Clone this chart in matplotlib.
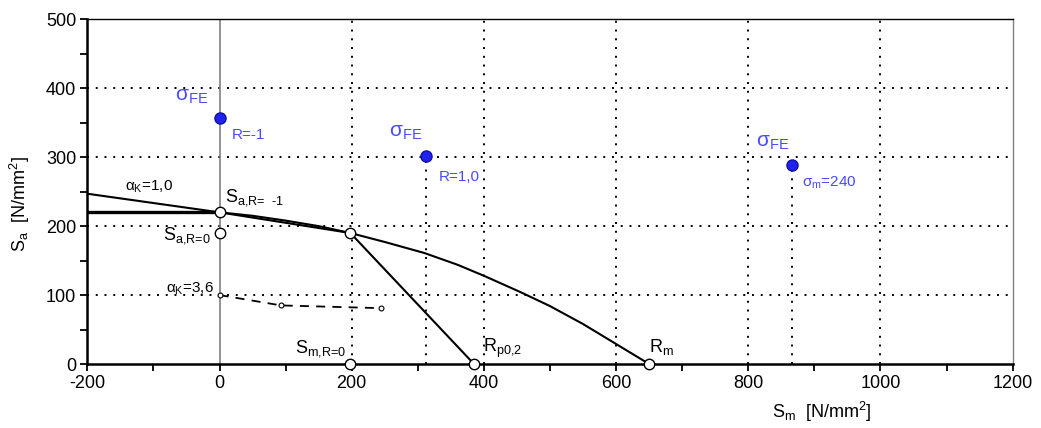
"""
Haigh diagram: S_a over S_m with fatigue limit curves and sigma_FE points
"""
import matplotlib
matplotlib.use("Agg")
import matplotlib.pyplot as plt
from matplotlib.ticker import MultipleLocator

plt.rcParams['font.family'] = ['Liberation Sans', 'DejaVu Sans']
plt.rcParams['mathtext.fontset'] = 'custom'
plt.rcParams['mathtext.rm'] = 'Liberation Sans'
plt.rcParams['mathtext.it'] = 'Liberation Sans'
plt.rcParams['axes.unicode_minus'] = False

# Curves (S_m, S_a in N/mm^2)
plateau_sm = [-200, 0]
plateau_sa = [220, 220]

alpha1_sm = [-200, 0, 198]
alpha1_sa = [247, 220, 190]

curve_sm = [0, 50, 100, 150, 198, 250, 310, 360, 400, 456, 500, 550, 600, 650]
curve_sa = [220, 215, 208, 200, 190, 177, 161, 144, 128, 104, 84, 58, 29, 0]

yield_sm = [198, 385]
yield_sa = [190, 0]

alpha36_sm = [0, 93, 244]
alpha36_sa = [100, 85, 81]

# open circles
open_sm = [0, 0, 198, 198, 385, 650]
open_sa = [220, 190, 190, 0, 0, 0]

# sigma_FE points
fe_sm = [0, 312, 866]
fe_sa = [357, 301, 288]

BLUE = '#2222ee'
TXT_BLUE = '#4a4aff'


def sub(main, low):
    # main text with subscript, no math spacing
    return r'$\text{%s}_{\text{%s}}$' % (main, low)


fig = plt.figure(figsize=(10.41, 4.28), dpi=100)
ax = fig.add_axes([0.0839, 0.1495, 0.8889, 0.8054])

ax.set_xlim(-200, 1200)
ax.set_ylim(0, 500)

# dotted grid
dot = (0, (1, 3.5))
for gx in [200, 400, 600, 800, 1000]:
    ax.axvline(gx, color='black', lw=1.4, ls=dot, zorder=1)
for gy in [100, 200, 300, 400]:
    ax.axhline(gy, color='black', lw=1.4, ls=dot, zorder=1)

# drop lines of the sigma_FE points
for xs, ys in zip(fe_sm[1:], fe_sa[1:]):
    ax.plot([xs, xs], [0, ys], color='black', lw=1.4, ls=dot, zorder=1)

# S_m = 0 line
ax.axvline(0, color='#808080', lw=1.2, zorder=2)

ax.plot(plateau_sm, plateau_sa, color='black', lw=2.4, zorder=3)
ax.plot(alpha1_sm, alpha1_sa, color='black', lw=1.5, zorder=3)
ax.plot(curve_sm, curve_sa, color='black', lw=1.5, zorder=3)
ax.plot(yield_sm, yield_sa, color='black', lw=1.5, zorder=3)
ax.plot(alpha36_sm, alpha36_sa, color='black', lw=1.3, ls=(0, (5, 4)), zorder=3)
ax.plot(alpha36_sm, alpha36_sa, ls='none', marker='o', ms=3.5, mfc='white',
        mec='black', mew=0.8, zorder=4)

ax.plot(open_sm, open_sa, ls='none', marker='o', ms=7.5, mfc='white',
        mec='black', mew=1.0, zorder=5, clip_on=False)
ax.plot(fe_sm, fe_sa, ls='none', marker='o', ms=8, mfc=BLUE,
        mec='#1010a0', mew=1.0, zorder=5)

# labels on the curves
ax.text(-143, 252, r'$\text{α}_{\text{K}}\text{=1,0}$', fontsize=11,
        ha='left', va='baseline')
ax.text(9, 236, sub('S', 'a,R=  -1'), fontsize=13, ha='left', va='baseline')
ax.text(-14, 181, sub('S', 'a,R=0'), fontsize=13, ha='right', va='baseline')
ax.text(-9, 103, r'$\text{α}_{\text{K}}\text{=3,6}$', fontsize=11,
        ha='right', va='baseline')
ax.text(192, 17, sub('S', 'm,R=0'), fontsize=13, ha='right', va='baseline')
ax.text(398, 17, sub('R', 'p0,2'), fontsize=13, ha='left', va='baseline')
ax.text(650, 17, sub('R', 'm'), fontsize=13, ha='left', va='baseline')

# sigma_FE labels
fe_label_pos = [(-67, 382), (257, 330), (812, 315)]
for lx, ly in fe_label_pos:
    ax.text(lx, ly, sub('σ', 'FE'), fontsize=15, color=TXT_BLUE,
            ha='left', va='baseline')
ax.text(19, 327, 'R=-1', fontsize=11, color=TXT_BLUE, ha='left', va='baseline')
ax.text(332, 266, 'R=1,0', fontsize=11, color=TXT_BLUE, ha='left', va='baseline')
ax.text(882, 257, r'$\text{σ}_{\text{m}}\text{=240}$', fontsize=11,
        color=TXT_BLUE, ha='left', va='baseline')

# axes styling
ax.xaxis.set_major_locator(MultipleLocator(200))
ax.xaxis.set_minor_locator(MultipleLocator(100))
ax.yaxis.set_major_locator(MultipleLocator(100))
ax.yaxis.set_minor_locator(MultipleLocator(50))
ax.tick_params(which='both', direction='out', length=5, width=1.3, labelsize=13,
               top=False, right=False)
ax.tick_params(axis='x', pad=3)
ax.tick_params(axis='y', pad=3)

ax.spines['left'].set_linewidth(1.8)
ax.spines['bottom'].set_linewidth(1.8)
ax.spines['top'].set_linewidth(1.0)
ax.spines['right'].set_linewidth(1.0)
ax.spines['right'].set_color('#808080')

ax.set_xlabel(r'$\text{S}_{\text{m}}\text{  [N/mm}^{\text{2}}\text{]}$', fontsize=13)
ax.xaxis.set_label_coords(0.794, -0.105)
ax.set_ylabel(r'$\text{S}_{\text{a}}\text{  [N/mm}^{\text{2}}\text{]}$', fontsize=13)
ax.yaxis.set_label_coords(-0.06, 0.465)

fig.savefig('out.png', dpi=100)
